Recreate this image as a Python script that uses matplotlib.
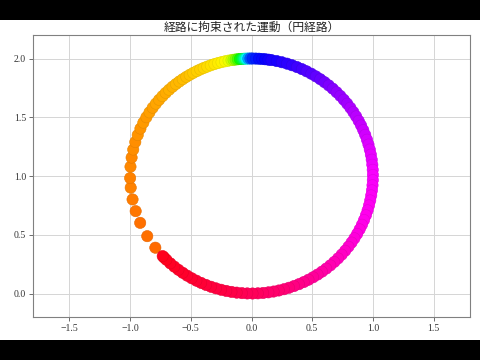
import numpy as np
import matplotlib
matplotlib.use("Agg")
import matplotlib.pyplot as plt
from matplotlib.patches import Rectangle

# Bead positions on the circular path, given as angle (deg) around centre (0, 1),
# in time order, and the colour value (hsv colormap) of each point.
phi_deg = [
    224.0, 217.6, 210.8, 203.5, 197.4, 191.5, 185.7, 181.0, 175.5,
    171.0, 167.0, 163.2, 159.6, 156.2, 153.0, 150.0, 147.2, 144.5, 142.0,
    139.6, 137.2, 135.0, 132.8, 130.6, 128.5, 126.5, 124.5, 122.5, 120.6,
    118.7, 116.8, 115.0, 113.2, 111.4, 109.6, 107.8, 106.0, 104.3, 102.6, 100.9,
    99.5, 98.5, 97.5, 96.5, 95.5, 94.5, 93.5, 92.5, 91.5, 90.5, 89.5, 88.0,
    86.5, 85.0, 83.5, 82.0, 80.5,
    78.0, 75.5, 73.0, 70.5, 68.0, 65.5, 63.0, 60.5, 58.0, 55.5, 53.0, 50.5,
    48.0, 45.5, 43.0, 40.5, 38.0, 35.5, 33.0, 30.5, 28.0, 25.5, 23.0, 20.5,
    18.0, 15.5, 13.0, 10.5, 8.0, 5.5, 3.0, 0.5, -2.0, -4.5, -7.0, -9.5,
    -12.0, -14.5, -17.0, -19.5, -22.0, -24.5, -27.0, -29.5, -32.0, -34.5,
    -37.0, -39.5, -42.0, -44.5, -47.0, -49.5, -52.0, -54.5, -57.0, -59.5,
    -62.0, -64.5, -67.0, -69.5, -72.0, -74.5, -77.0, -79.5, -82.0, -84.5,
    -87.0, -89.5, -92.0, -94.5, -97.0, -99.5, -102.0, -104.5, -107.0, -109.5,
    -112.0, -114.5, -117.0, -119.5, -122.0, -124.5, -127.0, -129.5, -132.0,
    -134.5, -137.0,
]
hue = [
    0.000, 0.072, 0.075, 0.078, 0.081, 0.084, 0.086, 0.088, 0.090,
    0.092, 0.094, 0.096, 0.098, 0.100, 0.102, 0.104, 0.106, 0.108, 0.110,
    0.112, 0.114, 0.116, 0.118, 0.120, 0.122, 0.124, 0.126, 0.128, 0.131,
    0.134, 0.137, 0.140, 0.143, 0.146, 0.150, 0.154, 0.158, 0.163, 0.170, 0.180,
    0.200, 0.225, 0.255, 0.290, 0.330, 0.375, 0.430, 0.500, 0.570, 0.620, 0.645, 0.660,
    0.668, 0.674, 0.680, 0.686, 0.692,
    0.695, 0.700, 0.705, 0.710, 0.715, 0.720, 0.727, 0.734, 0.740, 0.746, 0.752, 0.758,
    0.764, 0.770, 0.775, 0.780, 0.785, 0.790, 0.795, 0.800, 0.804, 0.808, 0.812, 0.816,
    0.820, 0.823, 0.826, 0.829, 0.832, 0.835, 0.838, 0.840, 0.842, 0.844, 0.846, 0.848,
    0.850, 0.852, 0.854, 0.856, 0.858, 0.861, 0.864, 0.867, 0.870, 0.873,
    0.876, 0.880, 0.884, 0.888, 0.892, 0.896, 0.900, 0.904, 0.908, 0.912,
    0.916, 0.920, 0.924, 0.928, 0.932, 0.936, 0.939, 0.942, 0.945, 0.948,
    0.951, 0.954, 0.957, 0.960, 0.963, 0.965, 0.967, 0.969, 0.971, 0.973,
    0.975, 0.977, 0.979, 0.981, 0.983, 0.985, 0.987, 0.989, 0.991,
    0.993, 0.995,
]
circle_center = (0.0, 1.0)
circle_radius = 1.0

xticks = [-1.5, -1.0, -0.5, 0.0, 0.5, 1.0, 1.5]
yticks = [0.0, 0.5, 1.0, 1.5, 2.0]
title = "経路に拘束された運動（円経路）"

phi = np.radians(phi_deg)
x = circle_center[0] + circle_radius * np.cos(phi)
y = circle_center[1] + circle_radius * np.sin(phi)

cmap = plt.get_cmap("hsv")
face = cmap(np.array(hue))
edge = face.copy()
edge[:, :3] *= 0.9

fig = plt.figure(figsize=(4.8, 3.6), dpi=100, facecolor="white")
# letterbox bars (top and bottom)
fig.patches.append(Rectangle((0, 0), 1, 20 / 360, transform=fig.transFigure,
                             facecolor="black", edgecolor="none"))
fig.patches.append(Rectangle((0, 340 / 360), 1, 20 / 360, transform=fig.transFigure,
                             facecolor="black", edgecolor="none"))
ax = fig.add_axes([33 / 480, 43 / 360, 437 / 480, 282 / 360])
ax.set_facecolor("white")
ax.scatter(x, y, s=66, c=face, edgecolors=edge, linewidths=0.4, zorder=3)

ax.set_xlim(-1.8, 1.8)
ax.set_ylim(-0.2, 2.2)
ax.set_xticks(xticks)
ax.set_yticks(yticks)
ax.set_xticklabels([f"{v:.1f}".replace("-", "\u2212") for v in xticks],
                   family="Liberation Serif", fontsize=7)
ax.set_yticklabels([f"{v:.1f}" for v in yticks],
                   family="Liberation Serif", fontsize=7)
ax.tick_params(length=3, width=0.6, colors="#555555", labelcolor="#333333", pad=2)
ax.grid(True, color="#d5d5d5", linewidth=0.7)
ax.set_axisbelow(True)
for sp in ax.spines.values():
    sp.set_color("#808080")
    sp.set_linewidth(0.8)
ax.set_title(title, family=["Noto Sans CJK JP", "DejaVu Sans"], fontsize=8.5,
             color="#222222", pad=3)

fig.savefig("out.png", dpi=100, facecolor="white")
